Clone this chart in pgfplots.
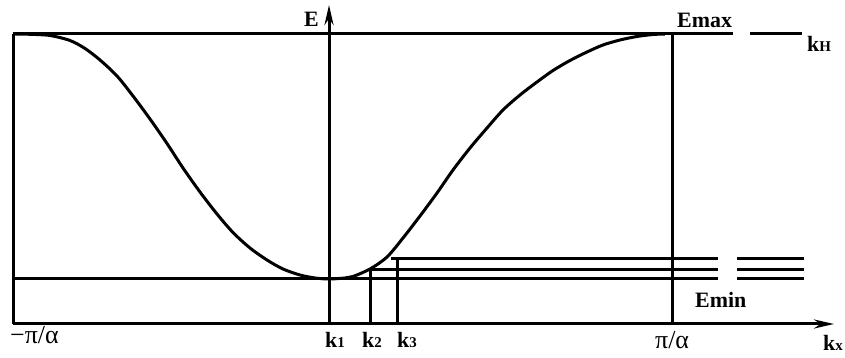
\documentclass[border=0pt]{standalone}
\usepackage{pgfplots}
\pgfplotsset{compat=1.18}
\usepackage{fontspec}
\setmainfont{Liberation Serif}
\usetikzlibrary{arrows.meta}

% Cosine-like band E(k_x) over the first Brillouin zone, drawn in a
% drawing-plane coordinate system (x to the right, y upwards).
\pgfplotstableread{
x    y
15   324
30   323.7
50   322.5
70   317.5
85   309.5
100  298
117  282
133  262
150  239
167  214.5
183  190
200  166
217  144
233  125.5
250  110
267  98
283  89
300  83
315  80
329  79
345  80
353  81.5
370  89
387  101
403  120
420  142
437  165
453  188
470  210
487  230
503  248
520  263
537  276
553  287.5
570  297.5
587  306
603  313
620  318
637  321.5
653  323.5
665  324
}\band

\tikzset{
  ln/.style={black, line width=3bp, no markers, solid},
  arr/.style={ln, -{Stealth[length=20bp,width=9bp]}},
  lbl/.style={font=\fontsize{22}{26}\selectfont\bfseries, inner sep=0pt},
  greek/.style={font=\fontsize{26}{30}\selectfont, inner sep=0pt},
}
\newcommand{\sub}[1]{{\fontsize{15}{17}\selectfont #1}}

\begin{document}
\begin{tikzpicture}
\begin{axis}[
  width=845bp, height=358bp, scale only axis,
  xmin=0, xmax=845, ymin=0, ymax=358,
  hide axis, clip=false,
]
\path (axis cs:0,0) rectangle (axis cs:845,358);

% band curve
\addplot[ln, smooth] table[x=x, y=y] {\band};

% E_max level and k_H
\addplot[ln] coordinates {(13,324) (733,324)};
\addplot[ln] coordinates {(750,324) (802,324)};

% zone boundaries
\addplot[ln] coordinates {(13,324) (13,34)};
\addplot[ln] coordinates {(672,324) (672,34)};

% E_min levels
\addplot[ln] coordinates {(13,79) (718,79)};
\addplot[ln] coordinates {(737,79) (804,79)};
\addplot[ln] coordinates {(370,88.5) (718,88.5)};
\addplot[ln] coordinates {(737,88.5) (804,88.5)};
\addplot[ln] coordinates {(391,99) (718,99)};
\addplot[ln] coordinates {(737,99) (804,99)};

% k2, k3 markers
\addplot[ln] coordinates {(370,34) (370,88.5)};
\addplot[ln] coordinates {(397,34) (397,99)};

% axes
\addplot[arr] coordinates {(13,34) (834,34)};
\addplot[arr] coordinates {(329,34) (329,353)};

% labels
\node[lbl, anchor=base west] at (axis cs:304,331) {E};
\node[lbl, anchor=base west] at (axis cs:677,330) {Emax};
\node[lbl, anchor=base west] at (axis cs:807,306) {k\sub{H}};
\node[lbl, anchor=base west] at (axis cs:695,50) {Emin};
\node[greek, anchor=base west] at (axis cs:10,15) {−π/α};
\node[lbl, anchor=base west] at (axis cs:325,11) {k\sub{1}};
\node[lbl, anchor=base west] at (axis cs:362,11) {k\sub{2}};
\node[lbl, anchor=base west] at (axis cs:397,11) {k\sub{3}};
\node[greek, anchor=base west] at (axis cs:655,10) {π/α};
\node[lbl, anchor=base west] at (axis cs:823,8) {k\sub{x}};
\end{axis}
\end{tikzpicture}
\end{document}
